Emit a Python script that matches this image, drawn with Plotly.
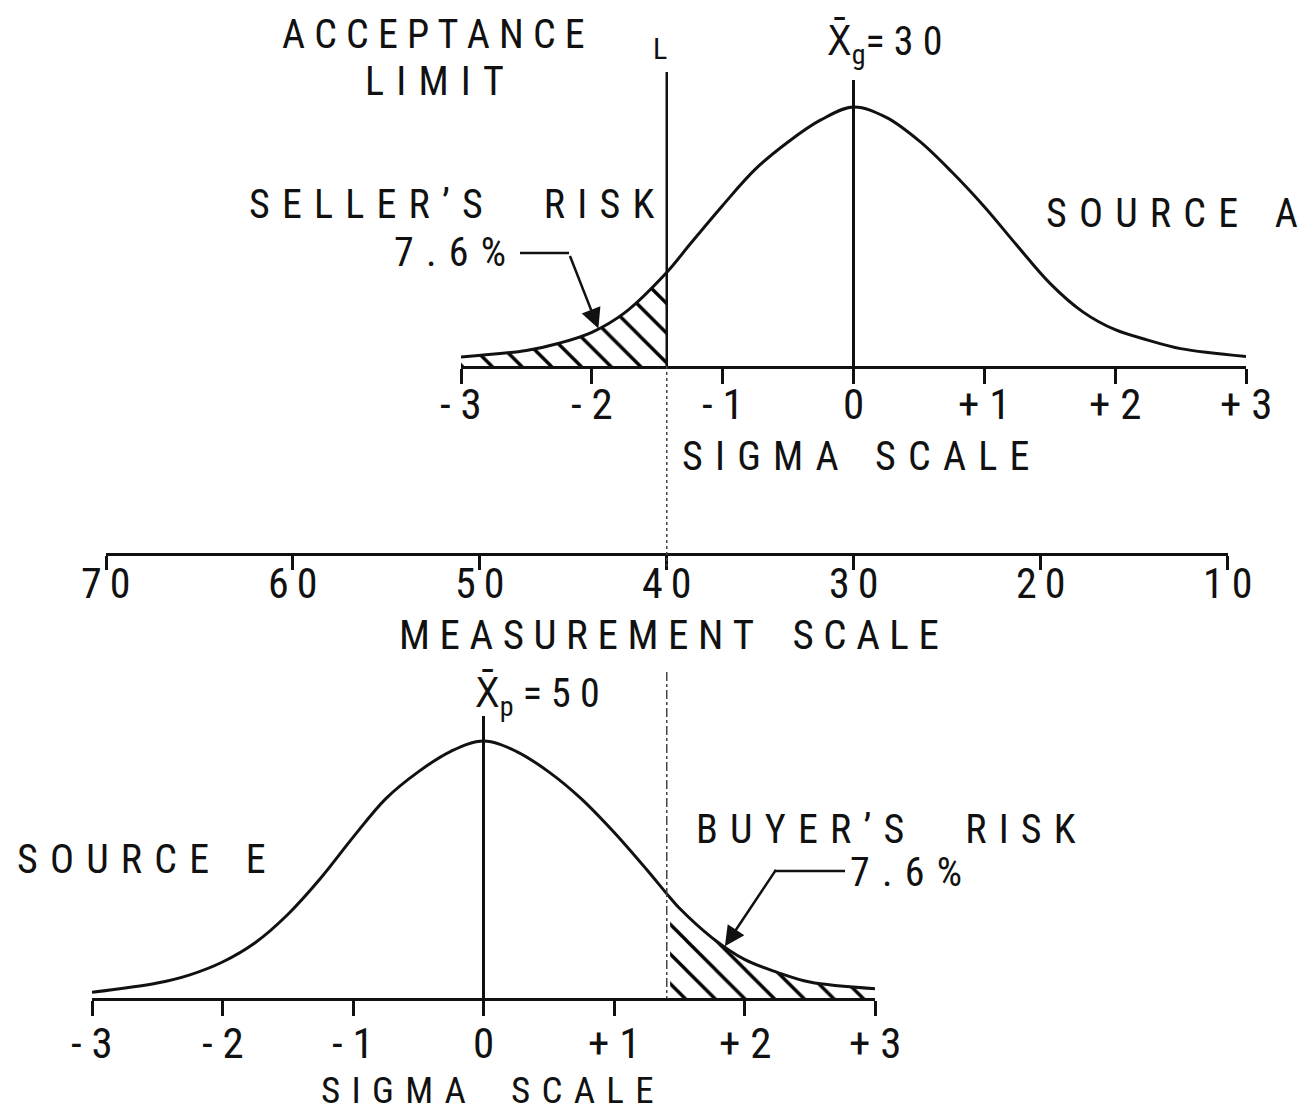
import numpy as np
import plotly.graph_objects as go

W, H = 1309, 1112

# Sigma positions and relative curve heights (peak = 1) for each source
sigma_a = [-3, -2.5, -2.25, -2, -1.75, -1.43, -1.25, -1, -0.75, -0.5, -0.25, 0,
           0.25, 0.5, 0.75, 1, 1.25, 1.5, 1.75, 2, 2.25, 2.5, 3]
height_a = [0.035, 0.06, 0.088, 0.13, 0.205, 0.36, 0.47, 0.62, 0.76, 0.865, 0.95, 1.0,
            0.96, 0.87, 0.75, 0.615, 0.465, 0.32, 0.21, 0.14, 0.10, 0.067, 0.037]

sigma_e = [-3, -2.5, -2.25, -2, -1.75, -1.5, -1.25, -1, -0.75, -0.5, -0.25, 0,
           0.25, 0.5, 0.75, 1, 1.25, 1.43, 1.5, 1.75, 2, 2.25, 2.5, 3]
height_e = [0.022, 0.058, 0.09, 0.14, 0.215, 0.325, 0.465, 0.625, 0.775, 0.88, 0.96, 1.0,
            0.96, 0.88, 0.775, 0.645, 0.50, 0.39, 0.35, 0.235, 0.15, 0.10, 0.062, 0.036]

# Scales
sigma_ticks = [-3, -2, -1, 0, 1, 2, 3]
sigma_labels = ["- 3", "- 2", "- 1", "0", "+ 1", "+ 2", "+ 3"]
measure_ticks = [70, 60, 50, 40, 30, 20, 10]
measure_labels = ["7\u20090", "6\u20090", "5\u20090", "4\u20090", "3\u20090", "2\u20090", "1\u20090"]

mean_a, mean_e = 30, 50
limit = 40
z_limit = 1.43          # acceptance limit in sigma units
risk_pct = 7.6

FONT = "Liberation Sans Narrow, Roboto Condensed, DejaVu Sans Condensed, Liberation Sans, sans-serif"
INK = "#111111"
GAP = "\u2004"           # three-per-em space used for the wide lettering
SMALL_GAP = "\u2005"


def px(x):
    return x / W


def py(y):
    return 1 - y / H


def spaced(text, gap=GAP, word_gap=3):
    """Letter-spaced capitals: every character separated by `gap`."""
    words = [gap.join(w) for w in text.split(" ")]
    return (gap * word_gap).join(words)


fig = go.Figure()

# Source A curve and hatched seller's-risk tail
za = np.array(sigma_a)
ha = np.array(height_a)
tail_a = za <= -z_limit
fig.add_trace(go.Scatter(
    x=za[tail_a], y=ha[tail_a], xaxis="x2", yaxis="y2", mode="lines",
    line=dict(width=0, shape="spline", smoothing=1.0), fill="tozeroy",
    fillcolor="rgba(0,0,0,0)",
    fillpattern=dict(shape="\\", size=21, solidity=0.16, fgcolor="#000000",
                     bgcolor="white", fgopacity=1),
    hoverinfo="skip", showlegend=False))
fig.add_trace(go.Scatter(
    x=za, y=ha, xaxis="x2", yaxis="y2", mode="lines",
    line=dict(color=INK, width=3, shape="spline", smoothing=1.0),
    showlegend=False, name="Source A"))

# Source E curve and hatched buyer's-risk tail
ze = np.array(sigma_e)
he = np.array(height_e)
tail_e = ze >= z_limit
fig.add_trace(go.Scatter(
    x=ze[tail_e], y=he[tail_e], xaxis="x3", yaxis="y3", mode="lines",
    line=dict(width=0, shape="spline", smoothing=1.0), fill="tozeroy",
    fillcolor="rgba(0,0,0,0)",
    fillpattern=dict(shape="\\", size=21, solidity=0.16, fgcolor="#000000",
                     bgcolor="white", fgopacity=1),
    hoverinfo="skip", showlegend=False))
fig.add_trace(go.Scatter(
    x=ze, y=he, xaxis="x3", yaxis="y3", mode="lines",
    line=dict(color=INK, width=3, shape="spline", smoothing=1.0),
    showlegend=False, name="Source E"))

axis_common = dict(
    showgrid=False, zeroline=False, showline=True, linecolor=INK, linewidth=3,
    ticks="outside", ticklen=15, tickwidth=3, tickcolor=INK,
    showticklabels=False, automargin=False, fixedrange=True,
)

fig.update_layout(
    width=W, height=H, margin=dict(l=0, r=0, t=0, b=0, autoexpand=False),
    paper_bgcolor="white", plot_bgcolor="rgba(0,0,0,0)",
    showlegend=False,
    # measurement scale (reversed)
    xaxis=dict(axis_common, domain=[px(106), px(1227.5)], range=[70, 10],
               tickvals=measure_ticks, anchor="free", position=py(554), ticklen=14),
    yaxis=dict(visible=False, domain=[0, 1], range=[0, 1], automargin=False),
    # Source A sigma scale
    xaxis2=dict(axis_common, domain=[px(461), px(1246)], range=[-3, 3],
                tickvals=sigma_ticks, anchor="y2"),
    yaxis2=dict(visible=False, domain=[py(366), py(366 - 1.15 * 259)],
                range=[0, 1.15], anchor="x2", automargin=False),
    # Source E sigma scale
    xaxis3=dict(axis_common, domain=[px(92), px(875)], range=[-3, 3],
                tickvals=sigma_ticks, anchor="y3"),
    yaxis3=dict(visible=False, domain=[py(998), py(998 - 1.15 * 257)],
                range=[0, 1.15], anchor="x3", automargin=False),
)

# Tick labels, placed on each axis's own scale
for axis_ref, vals, texts, ypix, size in [
        ("x", measure_ticks, measure_labels, 583, 42),
        ("x2", sigma_ticks, sigma_labels, 404, 43),
        ("x3", sigma_ticks, sigma_labels, 1043, 43)]:
    for v, t in zip(vals, texts):
        fig.add_annotation(text=t, x=v, xref=axis_ref, y=py(ypix), yref="paper",
                           showarrow=False, xanchor="center", yanchor="middle",
                           font=dict(family=FONT, size=size, color=INK))

# Mean lines
fig.add_shape(type="line", xref="x2", yref="y2", x0=0, x1=0, y0=0, y1=1.104,
              line=dict(color=INK, width=3))
fig.add_shape(type="line", xref="x3", yref="y3", x0=0, x1=0, y0=0, y1=1.097,
              line=dict(color=INK, width=3))

# Acceptance limit line L
fig.add_shape(type="line", xref="x", yref="paper", x0=limit, x1=limit,
              y0=py(72), y1=py(366), line=dict(color=INK, width=2.5))
fig.add_shape(type="line", xref="x", yref="paper", x0=limit, x1=limit,
              y0=py(366), y1=py(566), line=dict(color="#444444", width=1.5, dash="dot"))
fig.add_shape(type="line", xref="x", yref="paper", x0=limit, x1=limit,
              y0=py(672), y1=py(998), line=dict(color="#444444", width=1.5, dash="dashdot"))


def label(text, x, y, size=40, anchor="center"):
    fig.add_annotation(text=text, x=px(x), y=py(y), xref="paper", yref="paper",
                       showarrow=False, xanchor=anchor, yanchor="middle",
                       font=dict(family=FONT, size=size, color=INK))


pct_text = spaced(f"{risk_pct:.1f}%")

label(spaced("ACCEPTANCE", gap=" "), 433, 34)
label(spaced("LIMIT"), 434, 82)
label("L", 660, 49, size=30)
label("X̄<sub>g</sub>= 3 0", 884, 44)
label(spaced("SELLER’S RISK", word_gap=5), 451, 205)
label(pct_text, 450, 252)
label(spaced("SOURCE A"), 1300, 213, anchor="right")
label(spaced("SIGMA SCALE"), 855, 456)
label(spaced("MEASUREMENT SCALE", gap=SMALL_GAP, word_gap=4), 669, 635, size=41)
label("X̄<sub>p</sub> = 5 0", 537, 696)
label(spaced("SOURCE E"), 15, 859, anchor="left")
label(spaced("BUYER’S RISK", word_gap=5), 886, 829)
label(pct_text, 906, 872)
label(spaced("SIGMA SCALE", word_gap=4), 487, 1090, size=37)

# Leader arrows to the hatched tails
tip_a = -1.95
fig.add_annotation(x=tip_a, y=float(np.interp(tip_a, za, ha)), xref="x2", yref="y2",
                   ax=-29, ay=-74, showarrow=True, arrowhead=2, arrowsize=1.6,
                   arrowwidth=2.5, arrowcolor=INK, text="")
fig.add_shape(type="line", xref="paper", yref="paper", x0=px(520), x1=px(569),
              y0=py(253), y1=py(253), line=dict(color=INK, width=2.5))

tip_e = 1.85
fig.add_annotation(x=tip_e, y=float(np.interp(tip_e, ze, he)), xref="x3", yref="y3",
                   ax=52, ay=-78, showarrow=True, arrowhead=2, arrowsize=1.6,
                   arrowwidth=2.5, arrowcolor=INK, text="")
fig.add_shape(type="line", xref="paper", yref="paper", x0=px(774), x1=px(845),
              y0=py(871), y1=py(871), line=dict(color=INK, width=2.5))

fig.write_html("out.html")
